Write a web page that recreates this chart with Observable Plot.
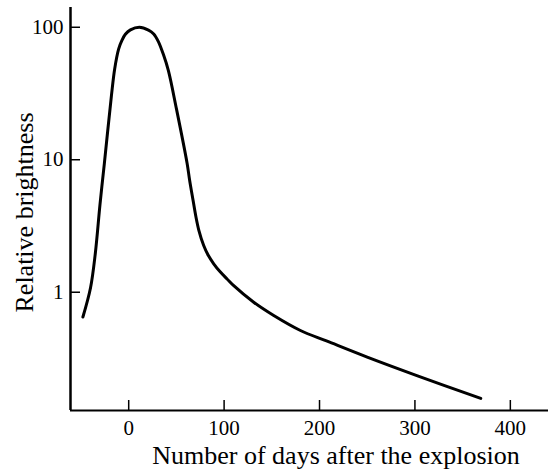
<!DOCTYPE html>
<html>
<head>
<meta charset="utf-8">
<script src="https://cdn.jsdelivr.net/npm/d3@7"></script>
<script src="https://cdn.jsdelivr.net/npm/@observablehq/plot@0.6"></script>
<style>
  html, body { margin: 0; padding: 0; background: #fff; }
  #chart svg { display: block; }
</style>
</head>
<body>
<div id="chart"></div>
<script>
const days = [-48, -40, -35, -30, -25.5, -18.1, -14.7, -10.5, -7.1, -3.5, 1.8, 11.2, 20.7, 26.2, 31.1, 36.4, 41.6, 50, 61.2, 63.9, 67.5, 70.4, 73.6, 78.6, 83.5, 89.1, 96.1, 103.1, 110.1, 131, 152, 180, 208, 250, 302, 369];
const brightness = [0.65, 1.08, 1.96, 4.67, 9.4, 30.5, 48.5, 68.7, 79.5, 88.5, 95.5, 100, 95.3, 89.1, 78, 62.2, 47.1, 24.3, 9.4, 6.97, 4.92, 3.73, 2.92, 2.25, 1.89, 1.64, 1.42, 1.26, 1.12, 0.84, 0.667, 0.514, 0.427, 0.324, 0.235, 0.158];
const xTicks = [0, 100, 200, 300, 400];
const yTicks = [1, 10, 100];
const xDomain = [-61, 440];
const yDomain = [0.128, 141];
const xLabel = "Number of days after the explosion";
const yLabel = "Relative brightness";

const data = days.map((d, i) => ({day: d, b: brightness[i]}));
const font = "Liberation Serif, Times New Roman, serif";

const chart = Plot.plot({
  width: 555,
  height: 470,
  marginLeft: 70,
  marginRight: 7,
  marginTop: 7,
  marginBottom: 60,
  style: {fontFamily: font, background: "#fff", color: "#000"},
  x: {domain: xDomain},
  y: {type: "log", domain: yDomain},
  marks: [
    Plot.axisX(xTicks, {tickSize: -10, tickPadding: 20, fontSize: 21, strokeWidth: 1.5, label: null, tickFormat: d => String(d)}),
    Plot.axisY(yTicks, {tickSize: -10, tickPadding: 17, fontSize: 21, strokeWidth: 1.5, label: null, tickFormat: d => String(d)}),
    Plot.ruleX([xDomain[0]], {stroke: "#000", strokeWidth: 2.5}),
    Plot.ruleY([yDomain[0]], {stroke: "#000", strokeWidth: 2}),
    Plot.line(data, {x: "day", y: "b", curve: "catmull-rom", stroke: "#000", strokeWidth: 3}),
    Plot.text([xLabel], {text: d => d, frameAnchor: "bottom", textAnchor: "middle", dx: 26.5, dy: 53, lineAnchor: "bottom", fontSize: 26, fill: "#000"}),
    Plot.text([yLabel], {text: d => d, frameAnchor: "left", textAnchor: "middle", rotate: -90, dx: -38, dy: 3.5, lineAnchor: "bottom", fontSize: 26, fill: "#000"})
  ]
});
document.getElementById("chart").appendChild(chart);
</script>
</body>
</html>
